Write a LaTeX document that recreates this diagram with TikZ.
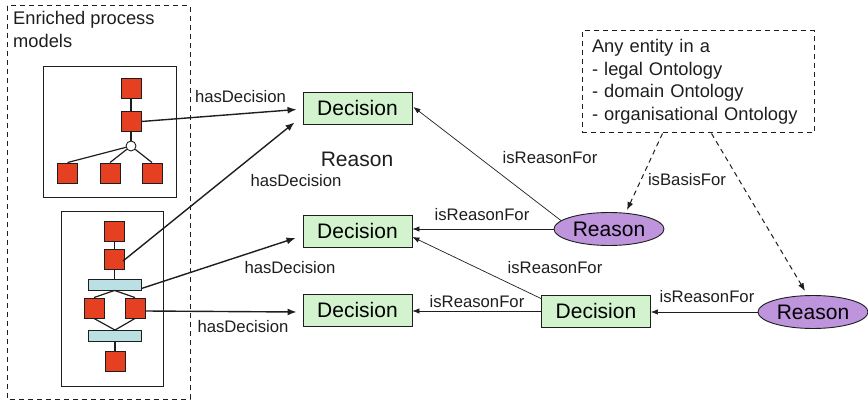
\documentclass[tikz,border=0pt]{standalone}
\usepackage{fontspec}
\setmainfont{Liberation Sans}
\usetikzlibrary{shapes.geometric,arrows.meta,calc}
\definecolor{redsq}{RGB}{230,64,34}
\definecolor{cyanbar}{RGB}{186,224,228}
\definecolor{decfill}{RGB}{210,243,206}
\definecolor{reasfill}{RGB}{190,148,220}
\definecolor{ink}{RGB}{30,30,30}
\begin{document}
\begin{tikzpicture}[x=1pt,y=-1pt,
 sq/.style={draw=ink,fill=redsq,line width=0.9pt,minimum width=20pt,minimum height=20pt,inner sep=0},
 bar/.style={draw=ink,fill=cyanbar,line width=0.9pt,minimum width=53pt,minimum height=11pt,inner sep=0},
 dec/.style={draw=ink,fill=decfill,line width=0.9pt,minimum width=109pt,minimum height=32pt,inner sep=0,font=\fontsize{21}{25}\selectfont},
 reas/.style={ellipse,draw=ink,fill=reasfill,line width=0.9pt,minimum width=110pt,minimum height=33pt,inner sep=0,font=\fontsize{21}{25}\selectfont},
 lab/.style={font=\fontsize{16.7}{20}\selectfont,inner sep=0,text=ink},
 hasd/.style={draw=ink,line width=1.4pt,-{Latex[length=9pt,width=7pt]}},
 isr/.style={draw=ink,line width=0.7pt,-{Latex[length=7pt,width=5.5pt]}},
 basis/.style={draw=ink,line width=1pt,dash pattern=on 5pt off 4pt,-{Latex[length=8pt,width=6pt]}},
 link/.style={draw=ink,line width=1.2pt},
 ]
\useasboundingbox (0,0) rectangle (868,401);
% outer dashed container
\draw[ink,line width=1pt,dash pattern=on 5pt off 4pt] (7,6) rectangle (190,399);
\node[anchor=north west,align=left,inner sep=0,font=\fontsize{18.3}{23}\selectfont,text=ink] (title) at (13,11) {Enriched process\\models};
% top process model
\draw[ink,line width=1pt] (43,67) rectangle (176,198);
\node[sq] (t1) at (131,88) {};
\node[sq] (t2) at (131,121.5) {};
\node[circle,draw=ink,fill=white,line width=0.9pt,minimum size=10pt,inner sep=0] (c) at (131,146) {};
\node[sq] (b1) at (67.5,173) {};
\node[sq] (b2) at (110,173) {};
\node[sq] (b3) at (152,173) {};
\draw[link] (t1) -- (t2);
\draw[link] (t2) -- (c);
\draw[link] (c) -- (b1.north);
\draw[link] (c) -- (b2.north);
\draw[link] (c) -- (b3.north);
% lower process model
\draw[ink,line width=1pt] (61,211) rectangle (163,386);
\node[sq] (l1) at (114.5,231.5) {};
\node[sq] (l2) at (114.5,259.5) {};
\node[bar] (bar1) at (114.5,284.5) {};
\node[sq] (ls) at (94,308) {};
\node[sq] (rs) at (135,308) {};
\node[bar] (bar2) at (115,336) {};
\node[sq] (l3) at (115,361.5) {};
\draw[link] (l1) -- (l2);
\draw[link] (l2) -- (bar1);
\draw[link] (bar1.south) -- (ls.north);
\draw[link] (bar1.south) -- (rs.north);
\draw[link] (ls.south) -- (bar2.north);
\draw[link] (rs.south) -- (bar2.north);
\draw[link] (bar2) -- (l3);
% decisions and reasons
\node[dec] (d1) at (357.5,108) {Decision};
\node[dec] (d2) at (357.5,231) {Decision};
\node[dec] (d3) at (357.5,310) {Decision};
\node[dec] (d4) at (596,311) {Decision};
\node[reas] (r1) at (609,229) {Reason};
\node[reas] (r2) at (813,312) {Reason};
\node[font=\fontsize{21}{25}\selectfont,inner sep=0,text=ink] (rtext) at (357,159) {Reason};
% ontology box
\node[draw=ink,line width=1pt,dash pattern=on 5pt off 4pt,minimum width=232pt,minimum height=102pt,
      text width=212pt,align=left,inner xsep=10pt,inner ysep=0,font=\fontsize{18.3}{22.5}\selectfont,text=ink]
      (onto) at (698,82) {Any entity in a\\- legal Ontology\\- domain Ontology\\- organisational Ontology};
% hasDecision arrows
\draw[hasd] (t2.east) -- ($(d1.west)+(-6,1.5)$);
\draw[hasd] ($(l2.center)+(8.5,1.5)$) -- ($(d1.south west)+(-8,-2)$);
\draw[hasd] ($(bar1.east)+(0,4)$) -- ($(d2.west)+(-7,7)$);
\draw[hasd] ($(rs.east)+(0,3)$) -- ($(d3.west)+(-6,2)$);
\node[lab] (h1) at (240.5,97) {hasDecision};
\node[lab] (h2) at (296,181) {hasDecision};
\node[lab] (h3) at (290,268) {hasDecision};
\node[lab] (h4) at (243,327) {hasDecision};
% isReasonFor arrows
\draw[isr] (r1.170) -- ($(d1.east)+(1,-1)$);
\draw[isr] (r1.west) -- (r1.west -| d2.east);
\draw[isr] ($(d4.north west)+(0,4)$) -- ($(d2.east)+(0,6)$);
\draw[isr] (d4.west) -- (d4.west -| d3.east);
\draw[isr] (r2.west) -- (r2.west -| d4.east);
\node[lab] (i1) at (550,158) {isReasonFor};
\node[lab] (i2) at (482,215) {isReasonFor};
\node[lab] (i3) at (555,268) {isReasonFor};
\node[lab] (i4) at (477,302) {isReasonFor};
\node[lab] (i5) at (707,297) {isReasonFor};
% isBasisFor arrows
\draw[basis] ($(onto.south west)+(81,0)$) -- ($(r1.north)+(18,-2)$);
\draw[basis] ($(onto.south west)+(130,0)$) -- ($(r2.north)+(-8,-4)$);
\node[lab] (bf) at (687,180) {isBasisFor};
\end{tikzpicture}
\end{document}
